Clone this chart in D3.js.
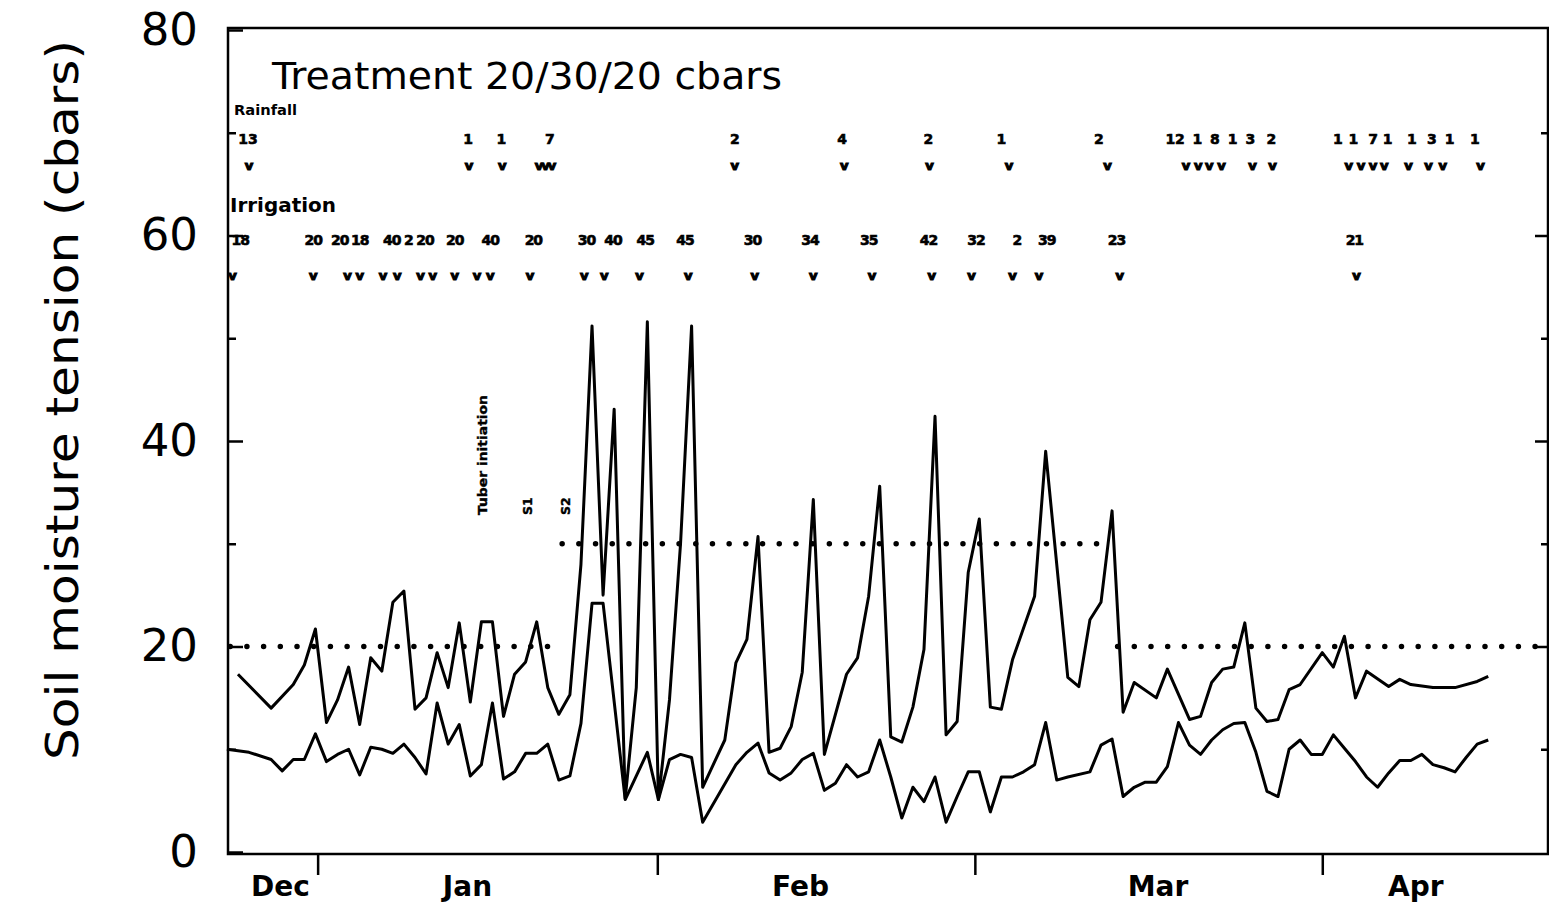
<!DOCTYPE html>
<html>
<head>
<meta charset="utf-8">
<script src="https://cdn.jsdelivr.net/npm/d3@7"></script>
<style>
  body { margin: 0; background: #fff; }
  svg { display: block; font-family: "DejaVu Sans", sans-serif; }
</style>
</head>
<body>
<div id="chart"></div>
<script>
// days counted from 1 January
const upperDays = [-7, -4, -2, -1, 0, 1, 2, 3, 4, 5, 6, 7, 8, 9, 10, 11, 12, 13, 14, 15, 16, 17, 18, 19, 20, 21, 22, 23, 24, 25, 26, 27, 28, 29, 30,
  31, 32, 33, 34, 35, 37, 38, 39, 40, 41, 42, 43, 44, 45, 46, 48, 49, 50, 51, 52, 53, 54, 55, 56, 57, 58, 59, 60, 61, 62, 63, 65, 66, 68, 69, 70,
  71, 72, 73, 74, 76, 77, 79, 80, 81, 82, 83, 84, 85, 86, 87, 88, 89, 91, 92, 93, 94, 95, 97, 98, 99, 101, 103, 105, 106];
const upperVals = [17.3, 14.0, 16.3, 18.2, 21.7, 12.6, 14.8, 18.0, 12.4, 18.9, 17.6, 24.3, 25.4, 13.9, 15.0, 19.4, 16.0, 22.3, 14.6, 22.4, 22.4, 13.2, 17.3, 18.5, 22.4, 16.0, 13.4, 15.3, 28, 51.2, 25, 43.1, 5.2, 16, 51.6,
  5.1, 14.8, 30, 51.2, 6.3, 10.9, 18.4, 20.7, 30.7, 9.7, 10.1, 12.2, 17.5, 34.3, 9.5, 17.3, 18.9, 24.9, 35.6, 11.2, 10.7, 14.1, 19.7, 42.4, 11.4, 12.7, 27.2, 32.4, 14.1, 13.9, 18.7, 24.9, 39.0, 17.0, 16.1, 22.6,
  24.3, 33.2, 13.6, 16.5, 15.0, 17.8, 12.9, 13.2, 16.5, 17.8, 18.0, 22.3, 14.0, 12.7, 12.9, 15.8, 16.3, 19.4, 18.0, 21.0, 15.0, 17.6, 16.1, 16.8, 16.3, 16.0, 16.0, 16.6, 17.1];

const lowerDays = [-8, -6, -4, -3, -2, -1, 0, 1, 2, 3, 4, 5, 6, 7, 8, 9, 10, 11, 12, 13, 14, 15, 16, 17, 18, 19, 20, 21, 22, 23, 24, 25, 26, 28, 30,
  31, 32, 33, 34, 35, 38, 39, 40, 41, 42, 43, 44, 45, 46, 47, 48, 49, 50, 51, 52, 53, 54, 55, 56, 57, 58, 59, 60, 61, 62, 63, 64, 65, 66, 67, 68, 70,
  71, 72, 73, 74, 75, 76, 77, 78, 79, 80, 81, 82, 83, 84, 85, 86, 87, 88, 89, 90, 91, 92, 93, 94, 95, 96, 97, 98, 99, 100, 101, 102, 103, 104, 105, 106];
const lowerVals = [10.0, 9.7, 9.0, 7.9, 9.0, 9.0, 11.5, 8.8, 9.5, 10.0, 7.5, 10.2, 10.0, 9.6, 10.5, 9.2, 7.6, 14.5, 10.5, 12.4, 7.4, 8.5, 14.5, 7.1, 7.8, 9.6, 9.6, 10.5, 7.0, 7.4, 12.5, 24.2, 24.2, 5.1, 9.7,
  5.1, 9.0, 9.5, 9.2, 2.9, 8.5, 9.7, 10.6, 7.7, 7.0, 7.7, 9.0, 9.6, 6.0, 6.7, 8.5, 7.3, 7.8, 10.9, 7.3, 3.3, 6.3, 4.9, 7.3, 2.9, 5.4, 7.8, 7.8, 3.9, 7.3, 7.3, 7.8, 8.5, 12.6, 7.0, 7.3, 7.8,
  10.4, 11.0, 5.4, 6.3, 6.8, 6.8, 8.3, 12.6, 10.4, 9.5, 10.9, 11.9, 12.5, 12.6, 9.7, 5.9, 5.4, 10.0, 10.9, 9.5, 9.5, 11.4, 10.1, 8.8, 7.3, 6.3, 7.7, 8.9, 8.9, 9.5, 8.5, 8.2, 7.8, 9.2, 10.5, 10.9];

// treatment thresholds (cbars) and the days they apply
const thresholdStart = [-7.7, 22.3, 72.5];
const thresholdEnd = [21.2, 71.8, 111.4];
const thresholdVals = [20, 30, 20];

// rainfall (mm) and irrigation (mm) annotations
const rainLabels = ["13", "1", "1", "7", "2", "4", "2", "1", "2", "12", "1", "8", "1", "3", "2", "1", "1", "7", "1", "1", "3", "1", "1"];
const rainLabelDays = [-6.1, 13.8, 16.8, 21.2, 37.9, 47.6, 55.4, 62.0, 70.8, 77.7, 79.7, 81.3, 82.9, 84.5, 86.4, 92.4, 93.8, 95.6, 96.9, 99.1, 100.9, 102.5, 104.8];
const rainMarks = ["v", "v", "v", "vvv", "v", "v", "v", "v", "v", "v", "v", "v", "v", "v", "v", "v", "v", "v", "v", "v", "v", "v", "v"];
const rainMarkDays = [-6.1, 13.8, 16.8, 20.7, 37.8, 47.7, 55.4, 62.6, 71.5, 78.6, 79.7, 80.7, 81.8, 84.6, 86.4, 93.3, 94.4, 95.5, 96.5, 98.7, 100.5, 101.8, 105.2];

const irrLabels = ["18", "20", "20", "18", "40", "2", "20", "20", "40", "20", "30", "40", "45", "45", "30", "34", "35", "42", "32", "2", "39", "23", "21"];
const irrLabelDays = [-6.8, -0.2, 2.2, 4.0, 6.9, 8.4, 9.9, 12.6, 15.8, 19.7, 24.5, 26.9, 29.8, 33.4, 39.5, 44.7, 50.0, 55.4, 59.7, 63.4, 66.1, 72.4, 93.9];
const irrMarkDays = [-7.5, -0.2, 2.9, 4.0, 6.1, 7.4, 9.5, 10.6, 12.6, 14.6, 15.8, 19.4, 24.3, 26.1, 29.3, 33.7, 39.7, 45.0, 50.3, 55.7, 59.3, 63.0, 65.4, 72.7, 94.1];

const stageLabels = ["Tuber initiation", "S1", "S2"];
const stageDays = [15.5, 19.6, 23.0];

const monthTickDays = [0.2, 30.9, 59.6, 91];
const monthLabels = ["Dec", "Jan", "Feb", "Mar", "Apr"];
const monthLabelDays = [-3.2, 13.7, 43.8, 76.1, 99.4];

const yMajor = [0, 20, 40, 60, 80];
const yMinor = [10, 30, 50, 70];

const width = 1549;
const height = 910;
const frame = { left: 228, top: 28, right: 1548, bottom: 854 };

const svg = d3.select("#chart").append("svg")
  .attr("width", width)
  .attr("height", height);

const x = d3.scaleLinear().domain([-7.9, 111.4]).range([frame.left, frame.right]);
const y = d3.scaleLinear().domain([0, 80]).range([852, 30]);

// frame
svg.append("rect")
  .attr("x", frame.left).attr("y", frame.top)
  .attr("width", frame.right - frame.left).attr("height", frame.bottom - frame.top)
  .attr("fill", "none").attr("stroke", "#000").attr("stroke-width", 2.5);

const styleAxis = (g) => {
  g.select(".domain").remove();
  g.selectAll(".tick line").attr("stroke", "#000").attr("stroke-width", 2.5);
};

// left axis
svg.append("g")
  .attr("transform", `translate(${frame.left},0)`)
  .call(d3.axisLeft(y).tickValues(yMajor).tickSize(-15).tickPadding(30))
  .call(styleAxis)
  .call((g) => g.selectAll("text")
    .attr("font-size", 45).attr("fill", "#000")
    .attr("font-family", "DejaVu Sans, sans-serif"));

svg.append("g")
  .attr("transform", `translate(${frame.left},0)`)
  .call(d3.axisLeft(y).tickValues(yMinor).tickSize(-8).tickFormat(""))
  .call(styleAxis);

// right axis
svg.append("g")
  .attr("transform", `translate(${frame.right},0)`)
  .call(d3.axisRight(y).tickValues(yMajor.slice(1, 4)).tickSize(-13).tickFormat(""))
  .call(styleAxis);

svg.append("g")
  .attr("transform", `translate(${frame.right},0)`)
  .call(d3.axisRight(y).tickValues(yMinor).tickSize(-7).tickFormat(""))
  .call(styleAxis);

// bottom axis: month boundaries, labels mid-month
svg.append("g")
  .attr("transform", `translate(0,${frame.bottom})`)
  .call(d3.axisBottom(x).tickValues(monthTickDays).tickSize(21).tickFormat(""))
  .call(styleAxis);

svg.append("g")
  .attr("transform", `translate(0,${frame.bottom})`)
  .call(d3.axisBottom(x).tickValues(monthLabelDays).tickSize(0).tickPadding(22)
    .tickFormat((d, i) => monthLabels[i]))
  .call((g) => g.select(".domain").remove())
  .call((g) => g.selectAll("text")
    .attr("font-size", 28).attr("font-weight", "bold").attr("fill", "#000")
    .attr("font-family", "DejaVu Sans, sans-serif"));

// y axis title
svg.append("text")
  .attr("transform", "translate(78,400) rotate(-90)")
  .attr("text-anchor", "middle")
  .attr("font-size", 44)
  .attr("textLength", 720)
  .attr("lengthAdjust", "spacingAndGlyphs")
  .text("Soil moisture tension (cbars)");

// treatment title
svg.append("text")
  .attr("x", 272).attr("y", 89)
  .attr("font-size", 38)
  .attr("textLength", 510)
  .attr("lengthAdjust", "spacingAndGlyphs")
  .text("Treatment 20/30/20 cbars");

// threshold dotted lines
const thresholds = thresholdVals.map((v, i) => ({ v, a: thresholdStart[i], b: thresholdEnd[i] }));
svg.selectAll(".threshold")
  .data(thresholds)
  .enter()
  .append("line")
  .attr("class", "threshold")
  .attr("x1", (d) => x(d.a)).attr("x2", (d) => x(d.b))
  .attr("y1", (d) => y(d.v)).attr("y2", (d) => y(d.v))
  .attr("stroke", "#000")
  .attr("stroke-width", 5.5)
  .attr("stroke-linecap", "round")
  .attr("stroke-dasharray", "0,16.7");

// tension lines
const line = d3.line().x((d) => x(d.day)).y((d) => y(d.val));
const upper = upperDays.map((day, i) => ({ day, val: upperVals[i] }));
const lower = lowerDays.map((day, i) => ({ day, val: lowerVals[i] }));

[upper, lower].forEach((series) => {
  svg.append("path")
    .datum(series)
    .attr("d", line)
    .attr("fill", "none")
    .attr("stroke", "#000")
    .attr("stroke-width", 3)
    .attr("stroke-linejoin", "round");
});

// rainfall annotation
svg.append("text")
  .attr("x", 234).attr("y", 115)
  .attr("font-size", 14.5).attr("font-weight", "bold")
  .attr("textLength", 63).attr("lengthAdjust", "spacingAndGlyphs")
  .text("Rainfall");

svg.selectAll(".rain-label")
  .data(rainLabels)
  .enter()
  .append("text")
  .attr("class", "rain-label")
  .attr("x", (d, i) => x(rainLabelDays[i]))
  .attr("y", 144)
  .attr("text-anchor", "middle")
  .attr("font-size", 14).attr("font-weight", "bold")
  .attr("stroke", "#000").attr("stroke-width", 0.6)
  .text((d) => d);

svg.selectAll(".rain-mark")
  .data(rainMarks)
  .enter()
  .append("text")
  .attr("class", "rain-mark")
  .attr("x", (d, i) => x(rainMarkDays[i]))
  .attr("y", 170)
  .attr("text-anchor", "middle")
  .attr("font-size", 13).attr("font-weight", "bold")
  .attr("stroke", "#000").attr("stroke-width", 1.2)
  .attr("letter-spacing", -2)
  .text((d) => d);

// irrigation annotation
svg.append("text")
  .attr("x", 230).attr("y", 212)
  .attr("font-size", 20).attr("font-weight", "bold")
  .attr("textLength", 106).attr("lengthAdjust", "spacingAndGlyphs")
  .text("Irrigation");

svg.selectAll(".irr-label")
  .data(irrLabels)
  .enter()
  .append("text")
  .attr("class", "irr-label")
  .attr("x", (d, i) => x(irrLabelDays[i]))
  .attr("y", 245)
  .attr("text-anchor", "middle")
  .attr("font-size", 14).attr("font-weight", "bold")
  .attr("stroke", "#000").attr("stroke-width", 0.6)
  .attr("letter-spacing", -1)
  .text((d) => d);

svg.selectAll(".irr-mark")
  .data(irrMarkDays)
  .enter()
  .append("text")
  .attr("class", "irr-mark")
  .attr("x", (d) => x(d))
  .attr("y", 280)
  .attr("text-anchor", "middle")
  .attr("font-size", 13).attr("font-weight", "bold")
  .attr("stroke", "#000").attr("stroke-width", 1.2)
  .text("v");

// growth stage labels (vertical)
svg.selectAll(".stage")
  .data(stageLabels)
  .enter()
  .append("text")
  .attr("class", "stage")
  .attr("transform", (d, i) => `translate(${x(stageDays[i])},515) rotate(-90)`)
  .attr("font-size", 12.5).attr("font-weight", "bold")
  .attr("stroke", "#000").attr("stroke-width", 0.4)
  .attr("textLength", (d) => (d.length > 2 ? 120 : null))
  .attr("lengthAdjust", "spacingAndGlyphs")
  .text((d) => d);
</script>
</body>
</html>
